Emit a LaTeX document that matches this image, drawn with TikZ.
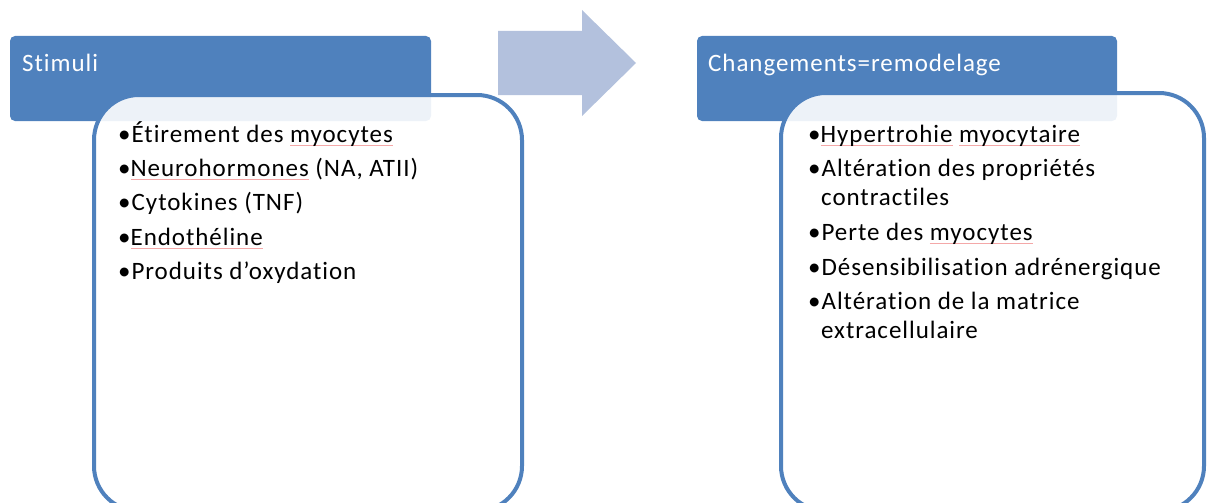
\documentclass[tikz,border=0pt]{standalone}
\usepackage{fontspec}
\setmainfont{Carlito}
\newfontfamily\calib[LetterSpace=3.8,Ligatures={NoCommon}]{Carlito}
\definecolor{hdrblue}{HTML}{4F81BD}
\definecolor{arrowblue}{HTML}{B3C1DD}
\definecolor{spellred}{HTML}{F4A8A8}
\newsavebox\spellbox
\newcommand\spell[1]{\sbox\spellbox{#1}\rlap{\textcolor{spellred}{\rule[-4pt]{\wd\spellbox}{0.6pt}}}\usebox\spellbox}
\tikzset{
  hdr/.style={fill=hdrblue, draw=none, rounded corners=5pt},
  bodybox/.style={fill=white, fill opacity=0.9, draw=hdrblue, draw opacity=1, line width=4pt, rounded corners=45pt},
  hdrtext/.style={anchor=base west, inner sep=0pt, text=white, font=\calib\fontsize{25}{29}\selectfont},
  item/.style={anchor=base west, inner sep=0pt, text=black, font=\calib\fontsize{25}{29}\selectfont},
  bigarrow/.style={fill=arrowblue, draw=none}
}
\begin{document}
\begin{tikzpicture}[x=1pt,y=-1pt]
\useasboundingbox (0,0) rectangle (1207,503);
\clip (0,0) rectangle (1207,503);
% headers
\fill[hdr] (10,36) rectangle (431,121);
\fill[hdr] (697,36) rectangle (1117,121);
% bodies
\path[bodybox] (94,95) rectangle (522,511);
\path[bodybox] (781,93) rectangle (1204,511);
% arrow
\fill[bigarrow] (498,31) -- (582,31) -- (582,10) -- (636,63) -- (582,116) -- (582,95) -- (498,95) -- cycle;
% header texts
\node[hdrtext] (h1) at (22,71) {Stimuli};
\node[hdrtext] (h2) at (708,71) {Changements=remodelage};
% left items
\node[item] (l1) at (118,142) {•Étirement des \spell{myocytes}};
\node[item] (l2) at (118,176) {•\spell{Neurohormones} (NA, ATII)};
\node[item] (l3) at (118,210) {•Cytokines (TNF)};
\node[item] (l4) at (118,245) {•\spell{Endothéline}};
\node[item] (l5) at (118,279) {•Produits d’oxydation};
% right items
\node[item] (r1) at (808,142) {•\spell{Hypertrohie} \spell{myocytaire}};
\node[item] (r2) at (808,176) {•Altération des propriétés};
\node[item] (r2b) at (821,205) {contractiles};
\node[item] (r3) at (808,240) {•Perte des \spell{myocytes}};
\node[item] (r4) at (808,275) {•Désensibilisation adrénergique};
\node[item] (r5) at (808,309) {•Altération de la matrice};
\node[item] (r5b) at (821,338) {extracellulaire};
\end{tikzpicture}
\end{document}
